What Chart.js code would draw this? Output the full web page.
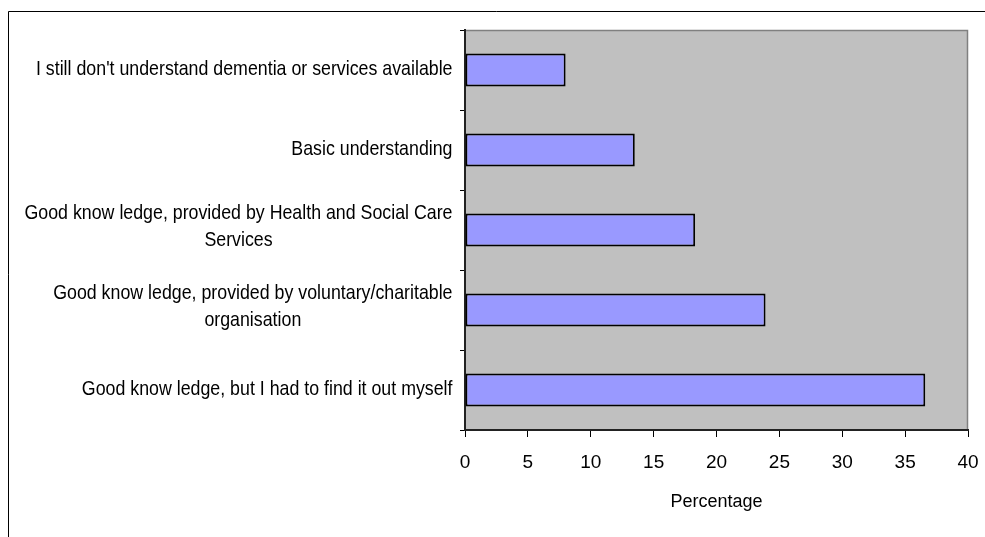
<!DOCTYPE html>
<html>
<head>
<meta charset="utf-8">
<script src="https://cdn.jsdelivr.net/npm/chart.js@4/dist/chart.umd.min.js"></script>
<style>
  html, body { margin: 0; padding: 0; background: #fff; }
  canvas { display: block; }
</style>
</head>
<body>
<canvas id="chart" width="985" height="537"></canvas>
<script>
// Survey answers (each entry is one label, split into its printed lines)
const categories = [
  ["I still don't understand dementia or services available"],
  ["Basic understanding"],
  ["Good know ledge, provided by Health and Social Care", "Services"],
  ["Good know ledge, provided by voluntary/charitable", "organisation"],
  ["Good know ledge, but I had to find it out myself"]
];
// Share of respondents, in percent
const percentages = [8.0, 13.5, 18.3, 23.9, 36.6];
// Value axis
const axisMin = 0;
const axisMax = 40;
const axisStep = 5;
const axisTitle = 'Percentage';

const FONT = '"Liberation Sans", Arial, sans-serif';

// Outer frame, grey plot background and the light plot edges
const framePlugin = {
  id: 'framePlugin',
  beforeDraw(chart) {
    const { ctx, chartArea: a } = chart;
    ctx.save();
    ctx.fillStyle = '#ffffff';
    ctx.fillRect(0, 0, chart.width, chart.height);
    ctx.strokeStyle = '#000000';
    ctx.lineWidth = 1;
    ctx.beginPath();
    ctx.moveTo(8.5, chart.height);
    ctx.lineTo(8.5, 11.5);
    ctx.lineTo(chart.width, 11.5);
    ctx.stroke();
    ctx.fillStyle = '#c0c0c0';
    ctx.fillRect(a.left, a.top, a.right - a.left, a.bottom - a.top);
    ctx.strokeStyle = '#808080';
    ctx.lineWidth = 1.5;
    ctx.beginPath();
    ctx.moveTo(a.left, a.top + 0.5);
    ctx.lineTo(a.right - 0.5, a.top + 0.5);
    ctx.lineTo(a.right - 0.5, a.bottom);
    ctx.stroke();
    ctx.restore();
  }
};

// Category labels: right-aligned blocks, wrapped lines centred within each block
const categoryLabelPlugin = {
  id: 'categoryLabelPlugin',
  afterDraw(chart) {
    const { ctx } = chart;
    const yScale = chart.scales.y;
    const right = chart.chartArea.left - 12.5;
    const lineH = 27.3;
    const stretch = 1.15;
    ctx.save();
    ctx.font = '17.8px ' + FONT;
    ctx.fillStyle = '#000000';
    ctx.textAlign = 'center';
    ctx.textBaseline = 'middle';
    categories.forEach((lines, i) => {
      const yc = yScale.getPixelForValue(i);
      const w = Math.max(...lines.map(l => ctx.measureText(l).width));
      const cx = right - w / 2;
      const shift = lines.length > 1 ? -3 : -0.5;
      lines.forEach((line, j) => {
        ctx.save();
        ctx.translate(cx, yc + shift + (j - (lines.length - 1) / 2) * lineH);
        ctx.scale(1, stretch);
        ctx.fillText(line, 0, 0);
        ctx.restore();
      });
    });
    ctx.restore();
  }
};

new Chart(document.getElementById('chart'), {
  type: 'bar',
  data: {
    labels: categories.map(c => c.join(' ')),
    datasets: [{
      data: percentages,
      backgroundColor: '#9999ff',
      borderColor: '#000000',
      borderWidth: 1.9,
      borderSkipped: false,
      barPercentage: 1,
      categoryPercentage: 0.41
    }]
  },
  options: {
    indexAxis: 'y',
    responsive: false,
    animation: false,
    devicePixelRatio: 1,
    layout: { padding: { top: 30, right: 17, left: 0, bottom: 0 } },
    plugins: {
      legend: { display: false },
      tooltip: { enabled: false }
    },
    scales: {
      x: {
        type: 'linear',
        min: axisMin,
        max: axisMax,
        ticks: {
          stepSize: axisStep,
          color: '#000000',
          font: { family: FONT, size: 19 },
          padding: 14,
          maxRotation: 0
        },
        grid: { drawOnChartArea: false, drawTicks: true, tickLength: 7, color: '#000000', lineWidth: 1 },
        border: { color: '#222222', width: 2 },
        title: {
          display: true,
          text: axisTitle,
          color: '#000000',
          font: { family: FONT, size: 18 },
          padding: { top: 0, bottom: 24 }
        },
        afterFit(scale) {
          scale.height = 107;
          scale.paddingLeft = 0;
          scale.paddingRight = 0;
        }
      },
      y: {
        ticks: { display: false },
        grid: { drawOnChartArea: false, drawTicks: true, tickLength: 5, offset: true, color: '#000000', lineWidth: 1 },
        border: { color: '#222222', width: 2 },
        afterFit(scale) { scale.width = 465; }
      }
    }
  },
  plugins: [framePlugin, categoryLabelPlugin]
});
</script>
</body>
</html>
